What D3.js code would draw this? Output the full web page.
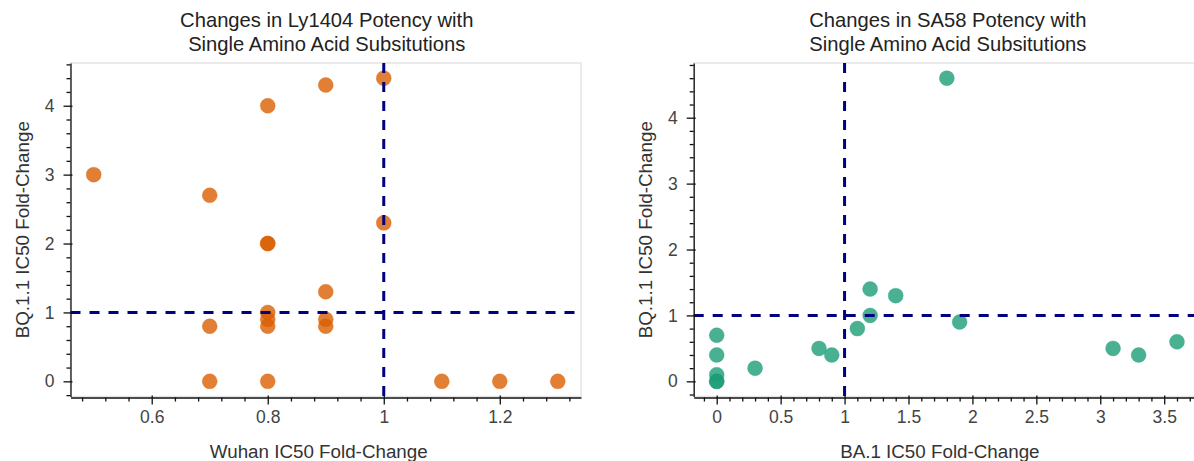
<!DOCTYPE html>
<html>
<head>
<meta charset="utf-8">
<script src="https://cdn.jsdelivr.net/npm/d3@7"></script>
<style>
  html, body { margin: 0; padding: 0; background: #fff; }
  svg { display: block; font-family: "Liberation Sans", Arial, Helvetica, sans-serif; }
</style>
</head>
<body>
<svg id="chart" width="1194" height="461"></svg>
<script>
// Ly1404: Wuhan vs BQ.1.1 IC50 fold-change per substitution
const ly1404Wuhan = [0.5, 0.7, 0.7, 0.7, 0.8, 0.8, 0.8, 0.8, 0.8, 0.8, 0.8, 0.9, 0.9, 0.9, 0.9, 1.0, 1.0, 1.1, 1.2, 1.3];
const ly1404BQ11  = [3.0, 2.7, 0.8, 0.0, 4.0, 2.0, 2.0, 1.0, 0.9, 0.8, 0.0, 4.3, 1.3, 0.9, 0.8, 4.4, 2.3, 0.0, 0.0, 0.0];

// SA58: BA.1 vs BQ.1.1 IC50 fold-change per substitution
const sa58BA1  = [0, 0, 0, 0, 0, 0.3, 0.8, 0.9, 1.1, 1.2, 1.2, 1.4, 1.8, 1.9, 3.1, 3.3, 3.6];
const sa58BQ11 = [0.7, 0.4, 0.1, 0.0, 0.0, 0.2, 0.5, 0.4, 0.8, 1.4, 1.0, 1.3, 4.6, 0.9, 0.5, 0.4, 0.6];

// Tick values
const ly1404XTicks = [0.6, 0.8, 1.0, 1.2];
const sa58XTicks   = [0, 0.5, 1, 1.5, 2, 2.5, 3, 3.5];
const bq11YTicks   = [0, 1, 2, 3, 4];

// Reference lines (no change)
const refX = 1;
const refY = 1;

const svg = d3.select("#chart");
const fmt = d => String(+d.toFixed(2));

function padded(values) {
  const [lo, hi] = d3.extent(values);
  const pad = (hi - lo) * 0.05;
  return [lo - pad, hi + pad];
}

function minorTicks(majors, domain) {
  const step = (majors[1] - majors[0]) / 5;
  const out = [];
  const start = Math.ceil((domain[0] - 1e-9) / step);
  const end = Math.floor((domain[1] + 1e-9) / step);
  for (let i = start; i <= end; i++) {
    const v = +(i * step).toFixed(6);
    if (!majors.some(m => Math.abs(m - v) < 1e-6)) out.push(v);
  }
  return out;
}

function drawPanel(cfg) {
  const g = svg.append("g");
  const x = d3.scaleLinear().domain(padded(cfg.xs)).range([cfg.left, cfg.right]);
  const y = d3.scaleLinear().domain(padded(cfg.ys)).range([cfg.bottom, cfg.top]);

  // frame outline
  g.append("rect")
    .attr("x", cfg.left).attr("y", cfg.top)
    .attr("width", cfg.right - cfg.left).attr("height", cfg.bottom - cfg.top)
    .attr("fill", "none").attr("stroke", "#e5e5e5").attr("stroke-width", 1.5);

  // points
  const pts = cfg.xs.map((v, i) => ({ x: v, y: cfg.ys[i] }));
  g.append("g").selectAll("circle").data(pts).join("circle")
    .attr("cx", d => x(d.x)).attr("cy", d => y(d.y)).attr("r", 7.5)
    .attr("fill", cfg.color).attr("fill-opacity", 0.8)
    .attr("stroke", cfg.color).attr("stroke-opacity", 0.3).attr("stroke-width", 1);

  // dashed reference lines
  g.append("line")
    .attr("x1", cfg.left).attr("x2", cfg.right)
    .attr("y1", y(refY)).attr("y2", y(refY))
    .attr("stroke", "#000080").attr("stroke-width", 3).attr("stroke-dasharray", "10,9");
  g.append("line")
    .attr("x1", x(refX)).attr("x2", x(refX))
    .attr("y1", cfg.top).attr("y2", cfg.bottom)
    .attr("stroke", "#000080").attr("stroke-width", 3).attr("stroke-dasharray", "10,9");

  // x axis
  const xMajor = d3.axisBottom(x).tickValues(cfg.xTicks).tickFormat(fmt).tickSizeInner(7).tickSizeOuter(0).tickPadding(6);
  const xMinor = d3.axisBottom(x).tickValues(minorTicks(cfg.xTicks, x.domain())).tickFormat("").tickSizeInner(4).tickSizeOuter(0);
  const gx = g.append("g").attr("transform", `translate(0,${cfg.bottom + 1})`);
  gx.call(xMajor);
  g.append("g").attr("transform", `translate(0,${cfg.bottom + 1})`).call(xMinor).select(".domain").remove();
  gx.selectAll(".tick line").attr("y1", -2);

  // y axis
  const yMajor = d3.axisLeft(y).tickValues(bq11YTicks).tickFormat(fmt).tickSizeInner(7).tickSizeOuter(0).tickPadding(9);
  const yMinor = d3.axisLeft(y).tickValues(minorTicks(bq11YTicks, y.domain())).tickFormat("").tickSizeInner(4).tickSizeOuter(0);
  const gy = g.append("g").attr("transform", `translate(${cfg.left},0)`);
  gy.call(yMajor);
  g.append("g").attr("transform", `translate(${cfg.left},0)`).call(yMinor).select(".domain").remove();
  gy.selectAll(".tick line").attr("x1", 2);

  g.selectAll(".domain, .tick line").attr("stroke", "#111").attr("stroke-width", 1.3);
  g.selectAll(".tick text").attr("font-size", 17.5).attr("fill", "#444")
    .attr("font-family", "Liberation Sans, Arial, sans-serif");

  // titles and axis labels
  const cx = (cfg.left + cfg.right) / 2;
  const title = g.append("text").attr("text-anchor", "middle").attr("font-size", 20.2).attr("fill", "#222");
  title.append("tspan").attr("x", cx + 1).attr("y", 27).text(cfg.title[0]);
  title.append("tspan").attr("x", cx + 1).attr("y", 51).text(cfg.title[1]);

  g.append("text").attr("x", cx - 7).attr("y", 458)
    .attr("text-anchor", "middle").attr("font-size", 18.8).attr("fill", "#333")
    .text(cfg.xLabel);

  g.append("text")
    .attr("transform", `translate(${cfg.left - 42},${(cfg.top + cfg.bottom) / 2}) rotate(-90)`)
    .attr("text-anchor", "middle").attr("font-size", 18.8).attr("fill", "#333")
    .text("BQ.1.1 IC50 Fold-Change");
}

drawPanel({
  xs: ly1404Wuhan, ys: ly1404BQ11, xTicks: ly1404XTicks,
  left: 70.5, right: 581, top: 63, bottom: 396.5,
  color: "#d95f02",
  title: ["Changes in Ly1404 Potency with", "Single Amino Acid Subsitutions"],
  xLabel: "Wuhan IC50 Fold-Change"
});

drawPanel({
  xs: sa58BA1, ys: sa58BQ11, xTicks: sa58XTicks,
  left: 693.7, right: 1200, top: 63, bottom: 396.5,
  color: "#1b9e77",
  title: ["Changes in SA58 Potency with", "Single Amino Acid Subsitutions"],
  xLabel: "BA.1 IC50 Fold-Change"
});
</script>
</body>
</html>
